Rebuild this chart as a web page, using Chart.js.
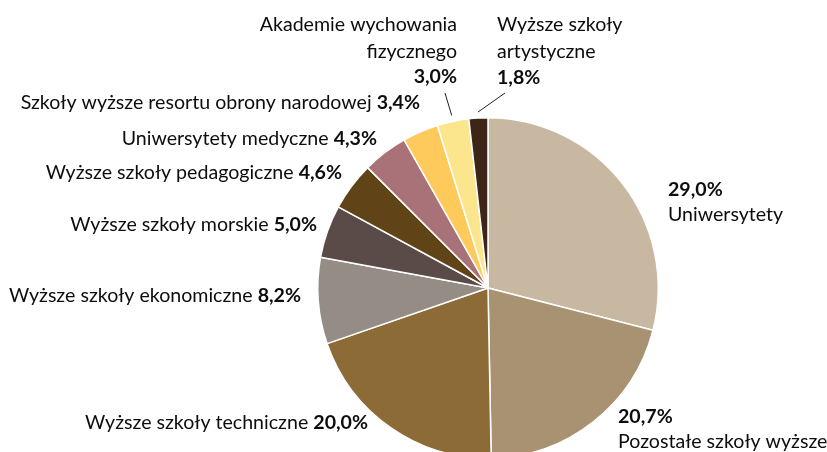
<!DOCTYPE html>
<html>
<head>
<meta charset="utf-8">
<script src="https://cdn.jsdelivr.net/npm/chart.js@4/dist/chart.umd.min.js"></script>
<style>
  html, body { margin: 0; padding: 0; background: #ffffff; overflow: hidden; }
  #wrap { position: relative; width: 827px; height: 470px; }
</style>
</head>
<body>
<div id="wrap"><canvas id="c" width="827" height="470"></canvas></div>
<script>
// ---- data ----
const categories = [
  'Uniwersytety',
  'Pozostałe szkoły wyższe',
  'Wyższe szkoły techniczne',
  'Wyższe szkoły ekonomiczne',
  'Wyższe szkoły morskie',
  'Wyższe szkoły pedagogiczne',
  'Uniwersytety medyczne',
  'Szkoły wyższe resortu obrony narodowej',
  'Akademie wychowania fizycznego',
  'Wyższe szkoły artystyczne'
];
const shares = [29.0, 20.7, 20.0, 8.2, 5.0, 4.6, 4.3, 3.4, 3.0, 1.8];
const colors = [
  '#C8B7A1', '#A89272', '#8D6B37', '#958C86', '#5B4B48',
  '#604418', '#A97278', '#FECA5C', '#FBE68D', '#3D2517'
];

// ---- label layout (text placement only) ----
const labelLayout = [
  { type: 'pctFirst', x: 668, ys: [190, 215], align: 'left' },
  { type: 'pctFirst', x: 618, ys: [417, 442], align: 'left' },
  { type: 'inline', x: 368, ys: [423], align: 'right' },
  { type: 'inline', x: 301, ys: [296], align: 'right' },
  { type: 'inline', x: 317, ys: [225], align: 'right' },
  { type: 'inline', x: 342, ys: [173], align: 'right' },
  { type: 'inline', x: 377, ys: [139], align: 'right' },
  { type: 'inline', x: 420, ys: [103], align: 'right' },
  { type: 'wrapped', x: 457, ys: [25, 52, 77], align: 'right', wrapWords: 2, leader: [445, 93] },
  { type: 'wrapped', x: 497, ys: [25, 52, 78], align: 'left', wrapWords: 2, leader: [505, 93] }
];

const FONT_FAMILY = 'Lato, "Liberation Sans", sans-serif';
const FONT_SIZE = 19.6;
const TEXT_COLOR = '#0d0d0d';

function fmtPct(v) { return v.toFixed(1).replace('.', ',') + '%'; }

function drawRuns(ctx, runs, x, y, align) {
  let total = 0;
  const widths = runs.map(r => {
    ctx.font = (r.bold ? 'bold ' : '') + FONT_SIZE + 'px ' + FONT_FAMILY;
    const w = ctx.measureText(r.text).width;
    total += w;
    return w;
  });
  let cx = align === 'right' ? x - total : (align === 'center' ? x - total / 2 : x);
  runs.forEach((r, k) => {
    ctx.font = (r.bold ? 'bold ' : '') + FONT_SIZE + 'px ' + FONT_FAMILY;
    ctx.textAlign = 'left';
    ctx.fillText(r.text, cx, y);
    cx += widths[k];
  });
}

const labelPlugin = {
  id: 'pieLabels',
  afterDatasetsDraw(chart) {
    const ctx = chart.ctx;
    const meta = chart.getDatasetMeta(0);
    ctx.save();
    ctx.fillStyle = TEXT_COLOR;
    ctx.textBaseline = 'middle';
    labelLayout.forEach((L, i) => {
      const name = categories[i];
      const pct = fmtPct(shares[i]);
      if (L.type === 'inline') {
        drawRuns(ctx, [{ text: name + ' ' }, { text: pct, bold: true }], L.x, L.ys[0], L.align);
      } else if (L.type === 'pctFirst') {
        drawRuns(ctx, [{ text: pct, bold: true }], L.x, L.ys[0], L.align);
        drawRuns(ctx, [{ text: name }], L.x, L.ys[1], L.align);
      } else if (L.type === 'wrapped') {
        const words = name.split(' ');
        const l1 = words.slice(0, L.wrapWords).join(' ');
        const l2 = words.slice(L.wrapWords).join(' ');
        drawRuns(ctx, [{ text: l1 }], L.x, L.ys[0], L.align);
        drawRuns(ctx, [{ text: l2 }], L.x, L.ys[1], L.align);
        drawRuns(ctx, [{ text: pct, bold: true }], L.x, L.ys[2], L.align);
      }
      if (L.leader) {
        const arc = meta.data[i];
        const mid = (arc.startAngle + arc.endAngle) / 2;
        const r = arc.outerRadius + 6;
        const ax = arc.x + Math.cos(mid) * r;
        const ay = arc.y + Math.sin(mid) * r;
        ctx.beginPath();
        ctx.strokeStyle = '#222222';
        ctx.lineWidth = 1;
        ctx.moveTo(L.leader[0], L.leader[1]);
        ctx.lineTo(ax, ay);
        ctx.stroke();
      }
    });
    ctx.restore();
  }
};

new Chart(document.getElementById('c'), {
  type: 'pie',
  data: {
    labels: categories,
    datasets: [{
      data: shares,
      backgroundColor: colors,
      borderColor: '#ffffff',
      borderWidth: 1.5
    }]
  },
  options: {
    responsive: false,
    animation: false,
    rotation: 0,
    layout: { padding: { left: 317, right: 168, top: 117, bottom: 11 } },
    plugins: {
      legend: { display: false },
      tooltip: { enabled: false },
      title: { display: false }
    }
  },
  plugins: [labelPlugin]
});
</script>
</body>
</html>
